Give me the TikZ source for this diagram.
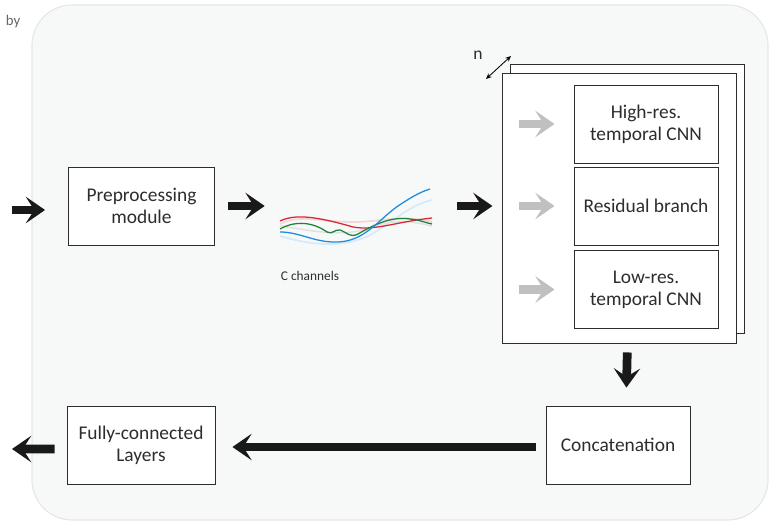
\documentclass[tikz,border=0pt]{standalone}
\usepackage{fontspec}
\setmainfont{Carlito}
\usetikzlibrary{calc,arrows.meta}
\definecolor{panelbg}{RGB}{247,248,248}
\definecolor{panelline}{RGB}{230,231,231}
\definecolor{textdark}{RGB}{45,45,45}
\definecolor{arrowgrey}{RGB}{192,192,192}
\definecolor{sigred}{RGB}{215,40,50}
\definecolor{siggreen}{RGB}{30,130,60}
\definecolor{sigblue}{RGB}{30,140,220}

\begin{document}
\begin{tikzpicture}[x=0.025cm,y=-0.025cm,
  box/.style={draw=textdark,fill=white,line width=0.6pt,minimum width=3.65cm,minimum height=1.95cm,
    align=center,text=textdark,font=\fontsize{13.8}{15.8}\selectfont},
  bigarrow/.style={draw=black!90,line width=6.2pt,-{Stealth[length=0.48cm,width=0.66cm,inset=0.21cm]}},
  greyarrow/.style={draw=arrowgrey,line width=6.2pt,-{Stealth[length=0.48cm,width=0.66cm,inset=0.21cm]}}]
  \useasboundingbox (0,0) rectangle (771,523);

  % --- background panel ---
  \draw[panelline,fill=panelbg,line width=0.8pt,rounded corners=1cm] (32,5) rectangle (768,520);
  \node[anchor=west,text=black!60,font=\fontsize{10.5}{12}\selectfont] (by) at (1,22) {by};

  % --- top row ---
  \node[box] (pre) at (141.5,206) {Preprocessing\\module};
  \coordinate (in) at (12,210);

  % signal sketch
  \node[minimum width=3.8cm,minimum height=1.45cm,inner sep=0pt] (sig) at (356,216) {};
  \draw[sigred!20,line width=1.2pt] (280,224) .. controls (300,214) and (320,222) .. (355,222)
    .. controls (380,222) and (400,214) .. (432,222);
  \draw[sigblue!18,line width=1.2pt] (280,236) .. controls (320,248) and (350,246) .. (372,234)
    .. controls (395,220) and (410,205) .. (432,200);
  \draw[black!12,line width=1pt] (280,226) .. controls (310,230) and (340,238) .. (370,228)
    .. controls (395,218) and (415,222) .. (432,226);
  \draw[sigred,line width=0.9pt] (280,221) .. controls (295,214) and (315,216) .. (353,227)
    .. controls (375,231) and (395,222) .. (432,218);
  \draw[siggreen,line width=0.9pt] (280,229) .. controls (292,222) and (310,220) .. (327,232)
    .. controls (332,235) and (335,229) .. (340,230) .. controls (348,233) and (350,238) .. (358,234)
    .. controls (372,226) and (390,216) .. (410,219) .. controls (420,220) and (426,223) .. (432,224);
  \draw[sigblue,line width=0.9pt] (280,232) .. controls (300,232) and (315,243) .. (338,242)
    .. controls (365,241) and (378,220) .. (398,206) .. controls (410,198) and (420,192) .. (430,189);
  \node[text=textdark,font=\fontsize{9.5}{11}\selectfont] (cch) at (310,276) {C channels};

  % stacked branch block
  \draw[textdark,fill=white,line width=0.6pt] (510,64) rectangle (744,333);
  \node[draw=textdark,fill=white,line width=0.6pt,minimum width=5.83cm,minimum height=6.75cm,inner sep=0pt]
    (stack) at (619.5,208) {};
  \coordinate (na) at (486,79);
  \coordinate (nb) at (511,56);
  \draw[black,line width=0.6pt,{Stealth[length=4pt,width=3.5pt]}-{Stealth[length=4pt,width=3.5pt]}] (na) -- (nb);
  \node[text=textdark,font=\fontsize{12.5}{14}\selectfont] (nlbl) at (478,55) {n};

  \node[box,minimum width=3.6cm] (hr) at (646,124) {High-res.\\temporal CNN};
  \node[box,minimum width=3.6cm] (rb) at (646,206) {Residual branch};
  \node[box,minimum width=3.6cm] (lr) at (646,289.5) {Low-res.\\temporal CNN};

  \foreach \b in {hr,rb,lr}{
    \draw[greyarrow,shorten >=19*0.025cm] ($(\b.west)+(-55,0)$) -- (\b.west);
  }

  % --- bottom row ---
  \node[box,minimum width=3.6cm] (cat) at (618,445) {Concatenation};
  \node[box,minimum width=3.7cm] (fc) at (141,445) {Fully-connected\\Layers};
  \coordinate (out) at (12,449);

  % --- main arrows ---
  \draw[bigarrow,shorten >=23*0.025cm] (in) -- (in -| pre.west);
  \draw[bigarrow,shorten <=13*0.025cm,shorten >=15*0.025cm] (pre.east) -- (pre.east -| sig.west);
  \draw[bigarrow,shorten <=25*0.025cm,shorten >=10*0.025cm] (sig.east |- rb) -- (stack.west |- rb);
  \draw[bigarrow,shorten <=9*0.025cm,shorten >=18*0.025cm] ([xshift=0.2cm]stack.south) -- ([xshift=0.2cm]cat.north);
  \draw[bigarrow,shorten <=10*0.025cm,shorten >=17*0.025cm] ([yshift=-0.05cm]cat.west) -- ([yshift=-0.05cm]fc.east);
  \draw[bigarrow,shorten <=12*0.025cm] ([yshift=-0.1cm]fc.west) -- (out);

\end{tikzpicture}
\end{document}
